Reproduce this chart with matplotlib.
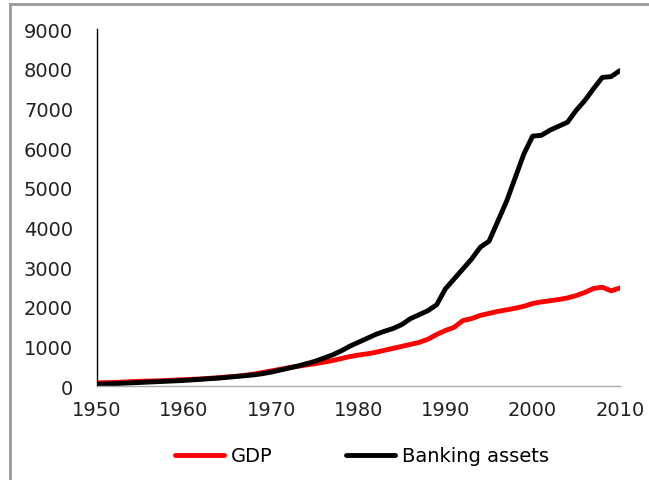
import matplotlib.pyplot as plt
from matplotlib.lines import Line2D

years = list(range(1950, 2011))

# values (index, 1950 = 0)
gdp = [80, 85, 90, 100, 110, 120, 125, 130, 140, 150,
       160, 170, 180, 195, 210, 230, 245, 270, 300, 340,
       380, 420, 460, 495, 530, 560, 600, 640, 690, 740,
       780, 810, 850, 900, 950, 1000, 1050, 1100, 1180, 1300,
       1400, 1480, 1650, 1700, 1780, 1830, 1880, 1920, 1960, 2010,
       2080, 2120, 2150, 2180, 2220, 2280, 2360, 2460, 2490, 2400,
       2470]
banking = [40, 50, 60, 70, 80, 90, 100, 110, 120, 130,
           140, 155, 170, 185, 200, 220, 240, 260, 280, 310,
           350, 400, 450, 500, 560, 620, 700, 780, 880, 1000,
           1100, 1200, 1300, 1380, 1450, 1550, 1700, 1800, 1900, 2050,
           2450, 2700, 2950, 3200, 3500, 3650, 4150, 4650, 5250, 5850,
           6300, 6320, 6450, 6550, 6650, 6950, 7200, 7500, 7780, 7800,
           7950]

y_ticks = [0, 1000, 2000, 3000, 4000, 5000, 6000, 7000, 8000, 9000]
x_ticks = [1950, 1960, 1970, 1980, 1990, 2000, 2010]

plt.rcParams['font.family'] = ['DejaVu Sans']

fig = plt.figure(figsize=(6.49, 4.81), dpi=100)
ax = fig.add_axes([0.149, 0.1954, 0.806, 0.7422])

ax.plot(years, gdp, color='#ff0000', linewidth=3.5, label='GDP', solid_capstyle='round')
ax.plot(years, banking, color='black', linewidth=3.5, label='Banking assets', solid_capstyle='round')

ax.set_xlim(1950, 2010)
ax.set_ylim(0, 9000)
ax.set_xticks(x_ticks)
ax.set_yticks(y_ticks)
ax.tick_params(axis='y', length=0, pad=17, labelsize=14, colors='#222222')
ax.tick_params(axis='x', length=0, pad=10, labelsize=14, colors='#222222')

for side in ['top', 'right']:
    ax.spines[side].set_visible(False)
ax.spines['left'].set_color('black')
ax.spines['left'].set_linewidth(1.0)
ax.spines['bottom'].set_color('#aaaaaa')
ax.spines['bottom'].set_linewidth(1.0)

fig.legend(loc='center', bbox_to_anchor=(0.558, 0.05), ncol=2, frameon=False,
           fontsize=14, handlelength=2.5, handletextpad=0.35, columnspacing=3.8)

# slide frame lines
fig.add_artist(Line2D([0.016, 0.016], [0, 0.99], transform=fig.transFigure,
                      color='#999999', linewidth=2))
fig.add_artist(Line2D([0.016, 1.0], [0.99, 0.99], transform=fig.transFigure,
                      color='#999999', linewidth=2))

fig.savefig('out.png', dpi=100, facecolor='white')
